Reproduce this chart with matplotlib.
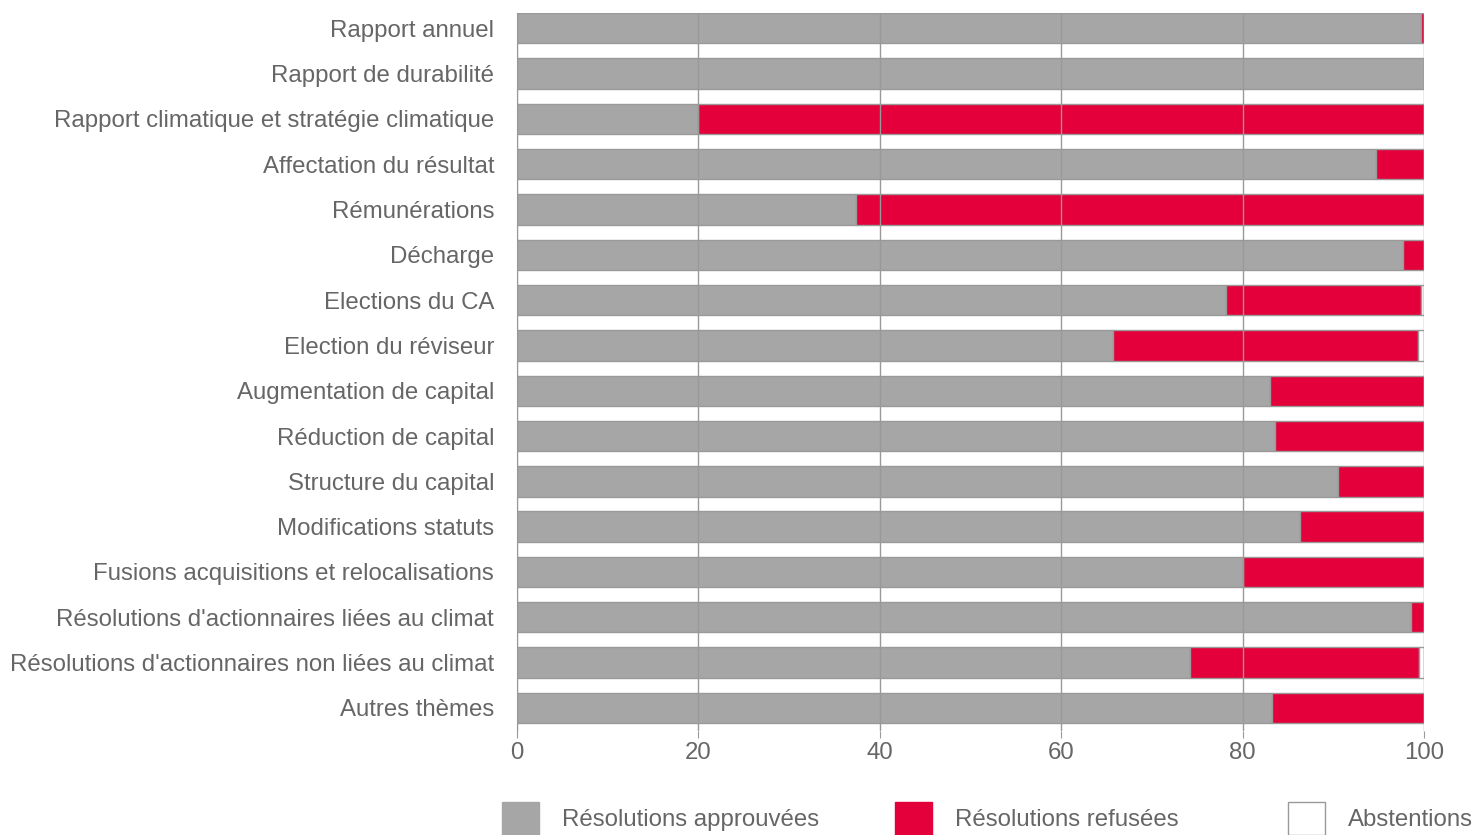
import matplotlib
matplotlib.use("Agg")
import matplotlib.pyplot as plt
from matplotlib.patches import Patch

categories = [
    "Rapport annuel",
    "Rapport de durabilité",
    "Rapport climatique et stratégie climatique",
    "Affectation du résultat",
    "Rémunérations",
    "Décharge",
    "Elections du CA",
    "Election du réviseur",
    "Augmentation de capital",
    "Réduction de capital",
    "Structure du capital",
    "Modifications statuts",
    "Fusions acquisitions et relocalisations",
    "Résolutions d'actionnaires liées au climat",
    "Résolutions d'actionnaires non liées au climat",
    "Autres thèmes",
]
approved = [99.7, 100.0, 20.0, 94.7, 37.4, 97.7, 78.2, 65.7, 83.0, 83.6, 90.5, 86.3, 80.0, 98.6, 74.2, 83.2]
refused = [0.3, 0.0, 80.0, 5.3, 62.6, 2.3, 21.5, 33.6, 17.0, 16.4, 9.5, 13.7, 20.0, 1.4, 25.3, 16.8]
abstentions = [0.0, 0.0, 0.0, 0.0, 0.0, 0.0, 0.3, 0.7, 0.0, 0.0, 0.0, 0.0, 0.0, 0.0, 0.5, 0.0]
series_names = ["Résolutions approuvées", "Résolutions refusées", "Abstentions"]
xticks = [0, 20, 40, 60, 80, 100]

GRAY = "#a6a6a6"
RED = "#e4003a"
EDGE = "#999999"
TEXT = "#666666"
FS = 17.3

plt.rcParams["font.family"] = ["Liberation Sans", "DejaVu Sans"]

fig = plt.figure(figsize=(14.79, 8.35), dpi=100)
ax = fig.add_axes([517 / 1479, 1 - 731 / 835, (1424 - 517) / 1479, (731 - 13) / 835])

y = list(range(len(categories)))
h = 0.67
ax.barh(y, approved, height=h, color=GRAY, edgecolor=EDGE, linewidth=1, zorder=2)
left2 = approved
ax.barh(y, refused, left=left2, height=h, color=RED, edgecolor=EDGE, linewidth=1, zorder=2)
left3 = [a + r for a, r in zip(approved, refused)]
ax.barh(y, abstentions, left=left3, height=h, color="white", edgecolor=EDGE, linewidth=1, zorder=2)

ax.set_ylim(len(categories) - 0.49, -0.335)
ax.set_xlim(0, 100)
ax.set_xticks(xticks)
ax.set_xticklabels([str(t) for t in xticks], fontsize=FS, color=TEXT)
ax.set_yticks(y)
ax.set_yticklabels(categories, fontsize=FS, color=TEXT)
ax.tick_params(axis="y", length=0, pad=16.5)
ax.tick_params(axis="x", length=5, color=EDGE, pad=3)
ax.grid(axis="x", color=EDGE, linewidth=1, zorder=3)
ax.set_axisbelow(False)
for s in ["top", "right", "bottom"]:
    ax.spines[s].set_visible(False)
ax.spines["left"].set_color(EDGE)
ax.spines["left"].set_zorder(4)

handles = [
    Patch(facecolor=GRAY, edgecolor=GRAY),
    Patch(facecolor=RED, edgecolor=RED),
    Patch(facecolor="white", edgecolor=EDGE),
]
xs = [502, 895, 1288]
for hd, name, x0 in zip(handles, series_names, xs):
    leg = fig.legend([hd], [name], loc="lower left",
                     bbox_to_anchor=(x0 / 1479, 0.0), frameon=False,
                     fontsize=FS, handlelength=1.55, handleheight=1.75,
                     handletextpad=0.95, borderpad=0, borderaxespad=0)
    for t in leg.get_texts():
        t.set_color(TEXT)

fig.savefig("out.png", dpi=100)
